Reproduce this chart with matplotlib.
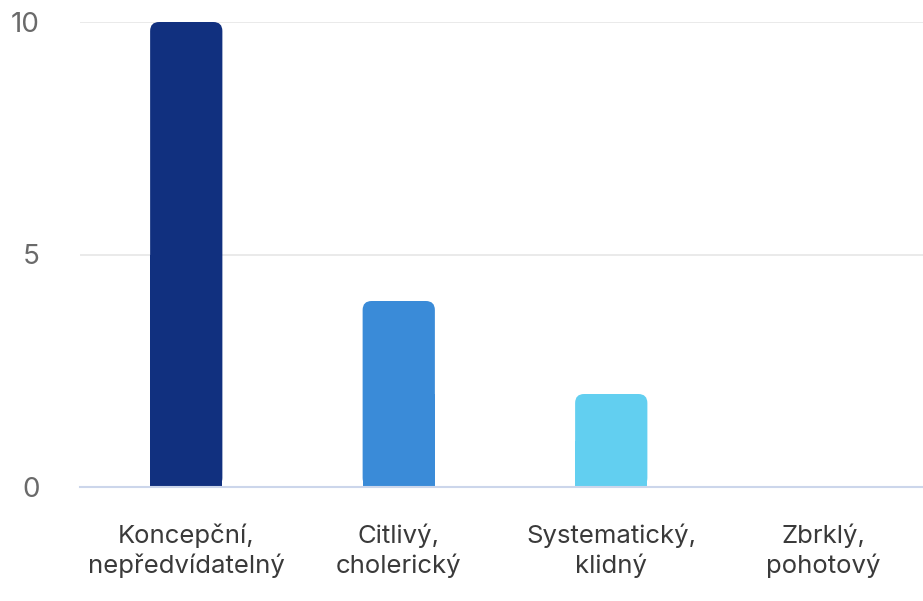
import matplotlib.pyplot as plt
from matplotlib.patches import FancyBboxPatch, Rectangle

kategorie = ["Koncepční,\nnepředvídatelný", "Citlivý,\ncholerický",
             "Systematický,\nklidný", "Zbrklý,\npohotový"]
pocty = [10, 4, 2, 0]
barvy = ["#11307f", "#3a8bd8", "#62cff0", "#b5e9f7"]

plt.rcParams['font.family'] = ['Inter', 'DejaVu Sans']

fig = plt.figure(figsize=(9.23, 6.01), dpi=100)
ax = fig.add_axes([80 / 923, 114 / 601, 850 / 923, 465 / 601])

sloupce = ax.bar(range(len(kategorie)), pocty, width=0.34, color=barvy)

ax.set_xlim(-0.5, 3.5)
ax.set_ylim(0, 10)

# zaoblene horni rohy sloupcu
r_x = 9 / 212.5
r_y = 9 / 46.5
for s in sloupce:
    x, w, h, c = s.get_x(), s.get_width(), s.get_height(), s.get_facecolor()
    s.remove()
    if h <= 0:
        continue
    ax.add_patch(FancyBboxPatch((x, 0), w, h,
                                boxstyle=f"round,pad=0,rounding_size={r_x}",
                                mutation_aspect=r_y / r_x,
                                fc=c, ec="none", clip_on=False, zorder=2))
    ax.add_patch(Rectangle((x, 0), w, h / 2, fc=c, ec="none", zorder=2))

ax.set_yticks([0, 5, 10])
ax.set_xticks(range(len(kategorie)))
ax.set_xticklabels(kategorie, linespacing=1.3)
ax.tick_params(axis='y', length=0, pad=29, labelsize=20, labelcolor="#6a6a6a")
ax.tick_params(axis='x', length=0, pad=26, labelsize=18.5, labelcolor="#3a3a3a")

ax.grid(axis='y', color="#e6e6e6", linewidth=1.2, zorder=0)
ax.set_axisbelow(True)
for side in ["top", "right", "left"]:
    ax.spines[side].set_visible(False)
ax.spines["bottom"].set_color("#ccd6eb")
ax.spines["bottom"].set_linewidth(1.5)
ax.spines["bottom"].set_zorder(3)

fig.savefig("out.png", dpi=100)
